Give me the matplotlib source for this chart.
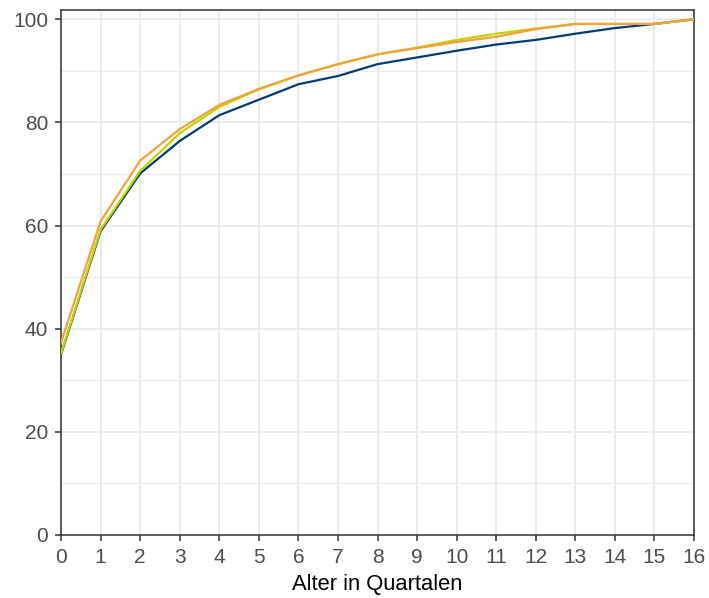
import matplotlib
matplotlib.use("Agg")
import matplotlib.pyplot as plt
from matplotlib.ticker import MultipleLocator

plt.rcParams['font.family'] = ['Liberation Sans', 'DejaVu Sans']

quarters = list(range(0, 17))
series_blue = [35.0, 58.9, 70.1, 76.4, 81.4, 84.4, 87.4, 89.0, 91.3, 92.6, 93.9, 95.1, 96.0, 97.2, 98.3, 99.1, 100.0]
series_green = [35.2, 59.2, 70.6, 77.9, 83.0, 86.4, 89.1, 91.3, 93.2, 94.5, 96.0, 97.2, 98.2, 99.1, 99.1, 99.1, 100.0]
series_orange = [37.3, 60.8, 72.6, 78.7, 83.4, 86.5, 89.1, 91.3, 93.2, 94.4, 95.6, 96.6, 98.1, 99.1, 99.1, 99.1, 100.0]
colors = {"blue": "#003B73", "green": "#C5D300", "orange": "#EEA240"}
xlabel = "Alter in Quartalen"
yticks = [0, 20, 40, 60, 80, 100]

fig = plt.figure(figsize=(7.09, 5.98), dpi=100)
ax = fig.add_axes([61/709, 1-535/598, (694-61)/709, (535-10)/598])

ax.plot(quarters, series_blue, color=colors["blue"], lw=1.6, solid_joinstyle='round', zorder=3)
ax.plot(quarters, series_green, color=colors["green"], lw=1.6, solid_joinstyle='round', zorder=4)
ax.plot(quarters, series_orange, color=colors["orange"], lw=1.6, solid_joinstyle='round', zorder=5)

ax.set_xlim(0, 16)
ax.set_ylim(0, 101.8)
ax.set_xticks(quarters)
ax.set_yticks(yticks)
ax.yaxis.set_minor_locator(MultipleLocator(10))

ax.grid(True, which='major', color='#EBEBEB', lw=1.4, zorder=0)
ax.grid(True, which='minor', axis='y', color='#EBEBEB', lw=0.9, zorder=0)
ax.set_axisbelow(True)

for s in ax.spines.values():
    s.set_color('#333333')
    s.set_linewidth(1.1)

ax.tick_params(axis='both', which='major', length=4.2, width=1.1, color='#333333',
               labelcolor='#4D4D4D', labelsize=15, pad=5)
ax.tick_params(axis='y', which='minor', length=0)

ax.set_xlabel(xlabel, fontsize=15.8, color='black', labelpad=5)

fig.savefig("out.png", dpi=100)
